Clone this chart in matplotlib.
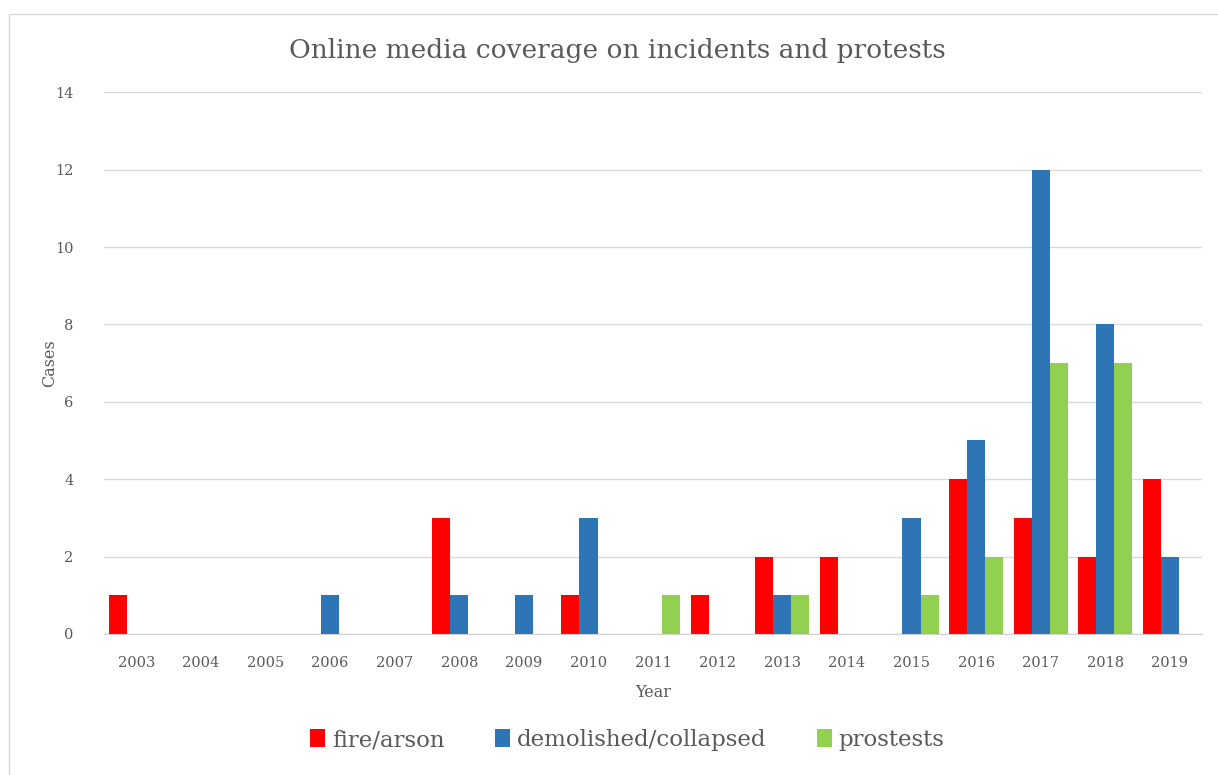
import numpy as np
import matplotlib.pyplot as plt
from matplotlib.patches import Rectangle

years = ['2003', '2004', '2005', '2006', '2007', '2008', '2009', '2010', '2011',
         '2012', '2013', '2014', '2015', '2016', '2017', '2018', '2019']
fire_arson = [1, 0, 0, 0, 0, 3, 0, 1, 0, 1, 2, 2, 0, 4, 3, 2, 4]
demolished = [0, 0, 0, 1, 0, 1, 1, 3, 0, 0, 1, 0, 3, 5, 12, 8, 2]
protests = [0, 0, 0, 0, 0, 0, 0, 0, 1, 0, 1, 0, 1, 2, 7, 7, 0]

plt.rcParams['font.family'] = ['DejaVu Serif']
text_col = '#595959'

fig = plt.figure(figsize=(12.18, 7.75), dpi=100)
ax = fig.add_axes([0.0854, 0.182, 0.9016, 0.699])

# Rahmen um das ganze Diagramm
fig.patches.append(Rectangle((9 / 1218, -0.01), 1.02, 1 - 14 / 775 + 0.01,
                             transform=fig.transFigure, fill=False,
                             edgecolor='#d9d9d9', linewidth=1))

x = np.arange(len(years))
w = 0.28
ax.bar(x - w, fire_arson, w, color='#ff0000', label='fire/arson', zorder=3)
ax.bar(x, demolished, w, color='#2e75b6', label='demolished/collapsed', zorder=3)
ax.bar(x + w, protests, w, color='#92d050', label='prostests', zorder=3)

ax.set_xlim(-0.5, len(years) - 0.5)
ax.set_ylim(0, 14)
ax.set_yticks(range(0, 15, 2))
ax.set_xticks(x)
ax.set_xticklabels(years)
ax.tick_params(axis='both', length=0, labelsize=10.5, colors=text_col)
ax.tick_params(axis='x', pad=16)
ax.tick_params(axis='y', pad=22)
ax.grid(axis='y', color='#d9d9d9', linewidth=1, zorder=0)
for s in ['top', 'right', 'left']:
    ax.spines[s].set_visible(False)
ax.spines['bottom'].set_color('#d0d0d0')

ax.set_xlabel('Year', fontsize=11.5, color=text_col, labelpad=10)
ax.set_ylabel('Cases', fontsize=11.5, color=text_col, labelpad=-2)
fig.text(0.507, 0.935, 'Online media coverage on incidents and protests',
         ha='center', va='center', fontsize=19, color=text_col)

fig.legend(loc='center', bbox_to_anchor=(0.515, 0.045), ncol=3, frameon=False,
           fontsize=16.5, handlelength=0.65, handleheight=0.85, handletextpad=0.3,
           columnspacing=2.2, labelcolor=text_col)

plt.savefig('out.png')
